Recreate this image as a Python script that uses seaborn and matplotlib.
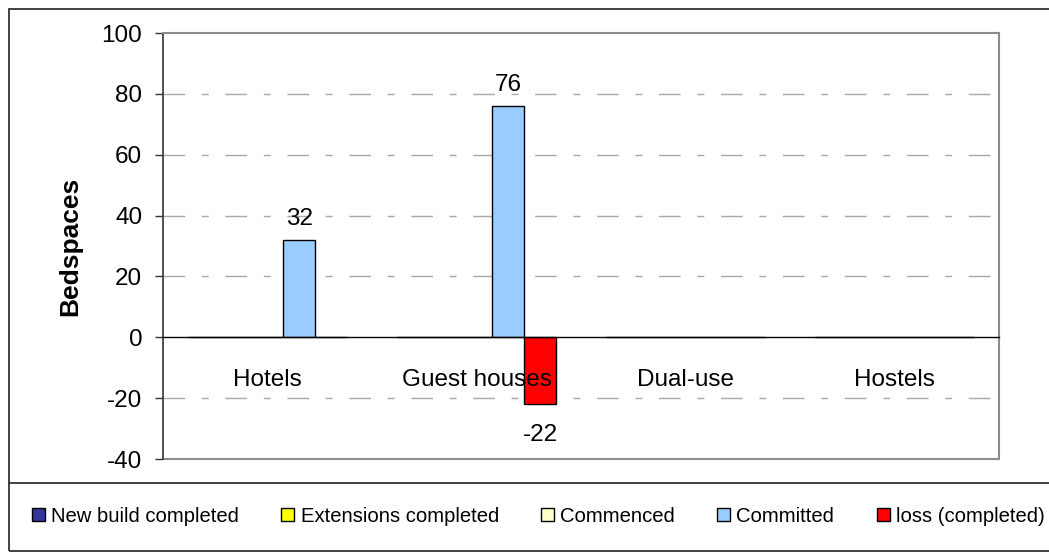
import matplotlib
matplotlib.use("Agg")
import matplotlib.pyplot as plt
import seaborn as sns
import pandas as pd
from matplotlib.patches import Rectangle
from matplotlib.lines import Line2D

# Bedspaces by accommodation type and development stage
categories = ["Hotels", "Guest houses", "Dual-use", "Hostels"]
series_names = ["New build completed", "Extensions completed", "Commenced",
                "Committed", "loss (completed)"]
new_build = [0, 0, 0, 0]
extensions = [0, 0, 0, 0]
commenced = [0, 0, 0, 0]
committed = [32, 76, 0, 0]
loss = [0, -22, 0, 0]
series_colors = ["#333399", "#FFFF00", "#FFFFCC", "#99CCFF", "#FF0000"]
y_ticks = [-40, -20, 0, 20, 40, 60, 80, 100]

sns.set_style("white")
plt.rcParams["font.family"] = ["Liberation Sans", "DejaVu Sans"]
plt.rcParams["axes.unicode_minus"] = False
plt.rcParams["text.color"] = "black"
plt.rcParams["axes.labelcolor"] = "black"
plt.rcParams["xtick.color"] = "black"
plt.rcParams["ytick.color"] = "black"

rows = []
for name, vals in zip(series_names, [new_build, extensions, commenced, committed, loss]):
    for cat, v in zip(categories, vals):
        rows.append({"Category": cat, "Series": name, "Bedspaces": v})
df = pd.DataFrame(rows)

W, H = 1049, 554
fig = plt.figure(figsize=(W / 100, H / 100), dpi=100)
ax = fig.add_axes([163 / W, 1 - 459 / H, (999 - 163) / W, (459 - 33) / H])

sns.barplot(data=df, x="Category", y="Bedspaces", hue="Series",
            order=categories, hue_order=series_names, palette=series_colors,
            saturation=1, width=0.765, edgecolor="black", linewidth=1,
            errorbar=None, ax=ax, zorder=3)

ax.set_xlim(-0.5, len(categories) - 0.5)
ax.set_ylim(y_ticks[0], y_ticks[-1])
ax.set_yticks(y_ticks)

# dash-dot horizontal gridlines
for y in y_ticks[1:-1]:
    if y != 0:
        ax.axhline(y, color="#a8a8a8", lw=1, linestyle=(0, (15.6, 12, 5, 12)), zorder=1)

# frame of the plot area
grey = "#8c8c8c"
for side in ("top", "right"):
    ax.spines[side].set_visible(True)
    ax.spines[side].set_color(grey)
    ax.spines[side].set_linewidth(1.5)
ax.spines["left"].set_color("#333333")
ax.spines["left"].set_linewidth(1.2)
ax.spines["bottom"].set_position(("data", 0))
ax.spines["bottom"].set_color("black")
ax.spines["bottom"].set_linewidth(1)
ax.spines["bottom"].set_zorder(4)
ax.axhline(y_ticks[0], color=grey, lw=1.5, clip_on=False, zorder=2)

# category labels under the zero line, ticks between categories
ax.set_xticks(range(len(categories)))
ax.set_xticklabels(categories)
ax.set_xticks([i + 0.5 for i in range(len(categories) - 1)], minor=True)
ax.tick_params(axis="x", which="major", length=0, pad=23, labelsize=17.5)
ax.tick_params(axis="x", which="minor", length=5, width=1, color="#333333", direction="out")
ax.tick_params(axis="y", length=6, width=1, color="#333333", direction="out",
               pad=9, labelsize=17.5, left=True)
ax.xaxis.set_zorder(5)

ax.set_xlabel("")
ax.set_ylabel("Bedspaces", fontsize=19, fontweight="bold", labelpad=14)

# value labels on non-zero bars
for cont in ax.containers:
    vals = [b.get_height() for b in cont]
    labels = ["%g" % v if v != 0 else "" for v in vals]
    neg = any(v < 0 for v in vals)
    ax.bar_label(cont, labels=labels, padding=14 if neg else 7, fontsize=17.5)

# legend along the bottom
handles = list(ax.containers)
ax.get_legend().remove()
fig.legend(handles=handles, labels=series_names, loc="center left",
           bbox_to_anchor=(32 / W, 1 - 516 / H), ncol=5, frameon=False,
           fontsize=14.6, handlelength=0.65, handleheight=0.65,
           handletextpad=0.3, columnspacing=2.08, borderpad=0, borderaxespad=0)

# chart and legend boxes
fig.add_artist(Rectangle((9 / W, 1 - 551 / H), (1100 - 9) / W, (551 - 9) / H,
                         transform=fig.transFigure, fill=False,
                         edgecolor="#333333", lw=1.3))
fig.add_artist(Line2D([9 / W, 1.05], [1 - 483 / H] * 2, transform=fig.transFigure,
                      color="#333333", lw=1.3))

fig.savefig("out.png", dpi=100)
